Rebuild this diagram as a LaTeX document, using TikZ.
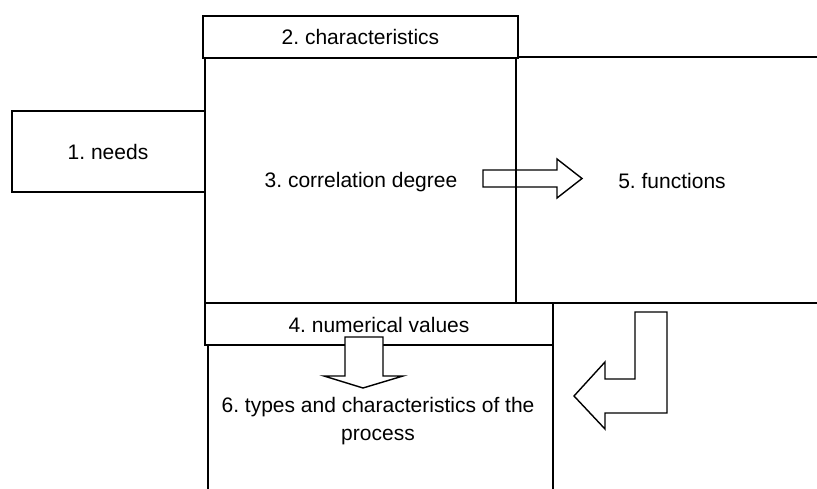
\documentclass[tikz,border=0pt]{standalone}
\usepackage{fontspec}
\setmainfont{Liberation Sans}
\frenchspacing
\begin{document}
\begin{tikzpicture}[x=1pt,y=-1pt,
  box/.style={draw, line width=1.4pt, fill=white, inner sep=0pt, outer sep=0pt, anchor=north west},
  lbl/.style={font=\fontsize{21}{27.5}\selectfont, align=center, inner sep=0pt},
  blockarrow/.style={draw, line width=1.4pt, line join=miter}]
\useasboundingbox (0,0) rectangle (817,489);
\clip (0,0) rectangle (817,489);
\fill[white] (0,0) rectangle (817,489);
% boxes
\node[box, minimum width=324pt, minimum height=246pt] (b5) at (516,57) {};
\node[box, minimum width=311pt, minimum height=245pt] (b3) at (205,58) {};
\node[box, minimum width=315pt, minimum height=42pt] (b2) at (203,16) {};
\node[box, minimum width=193pt, minimum height=81pt] (b1) at (12,111) {};
\node[box, minimum width=345pt, minimum height=160pt] (b6) at (208,345) {};
\node[box, minimum width=348pt, minimum height=42pt] (b4) at (205,303) {};
% labels
\node[lbl] (t2) at (b2.center) {2. characteristics};
\node[lbl] (t1) at (108,152) {1. needs};
\node[lbl] (t3) at (361,182) {3. correlation degree};
\node[lbl] (t5) at (672,181) {5. functions};
\node[lbl] (t4) at (379,325) {4. numerical values};
\node[lbl] (t6) at (378,421) {6. types and characteristics of the\\process};
% block arrows
\draw[blockarrow] (483,170) -- (557,170) -- (557,159) -- (582,178.5) -- (557,198) -- (557,187) -- (483,187) -- cycle;
\filldraw[blockarrow, fill=white] (345,337) -- (383,337) -- (383,376) -- (403,376) -- (363,388) -- (324,376) -- (345,376) -- cycle;
\draw[blockarrow] (635,312) -- (667,312) -- (667,413) -- (605,413) -- (605,429) -- (574,396) -- (605,362) -- (605,379) -- (635,379) -- cycle;
\end{tikzpicture}
\end{document}
